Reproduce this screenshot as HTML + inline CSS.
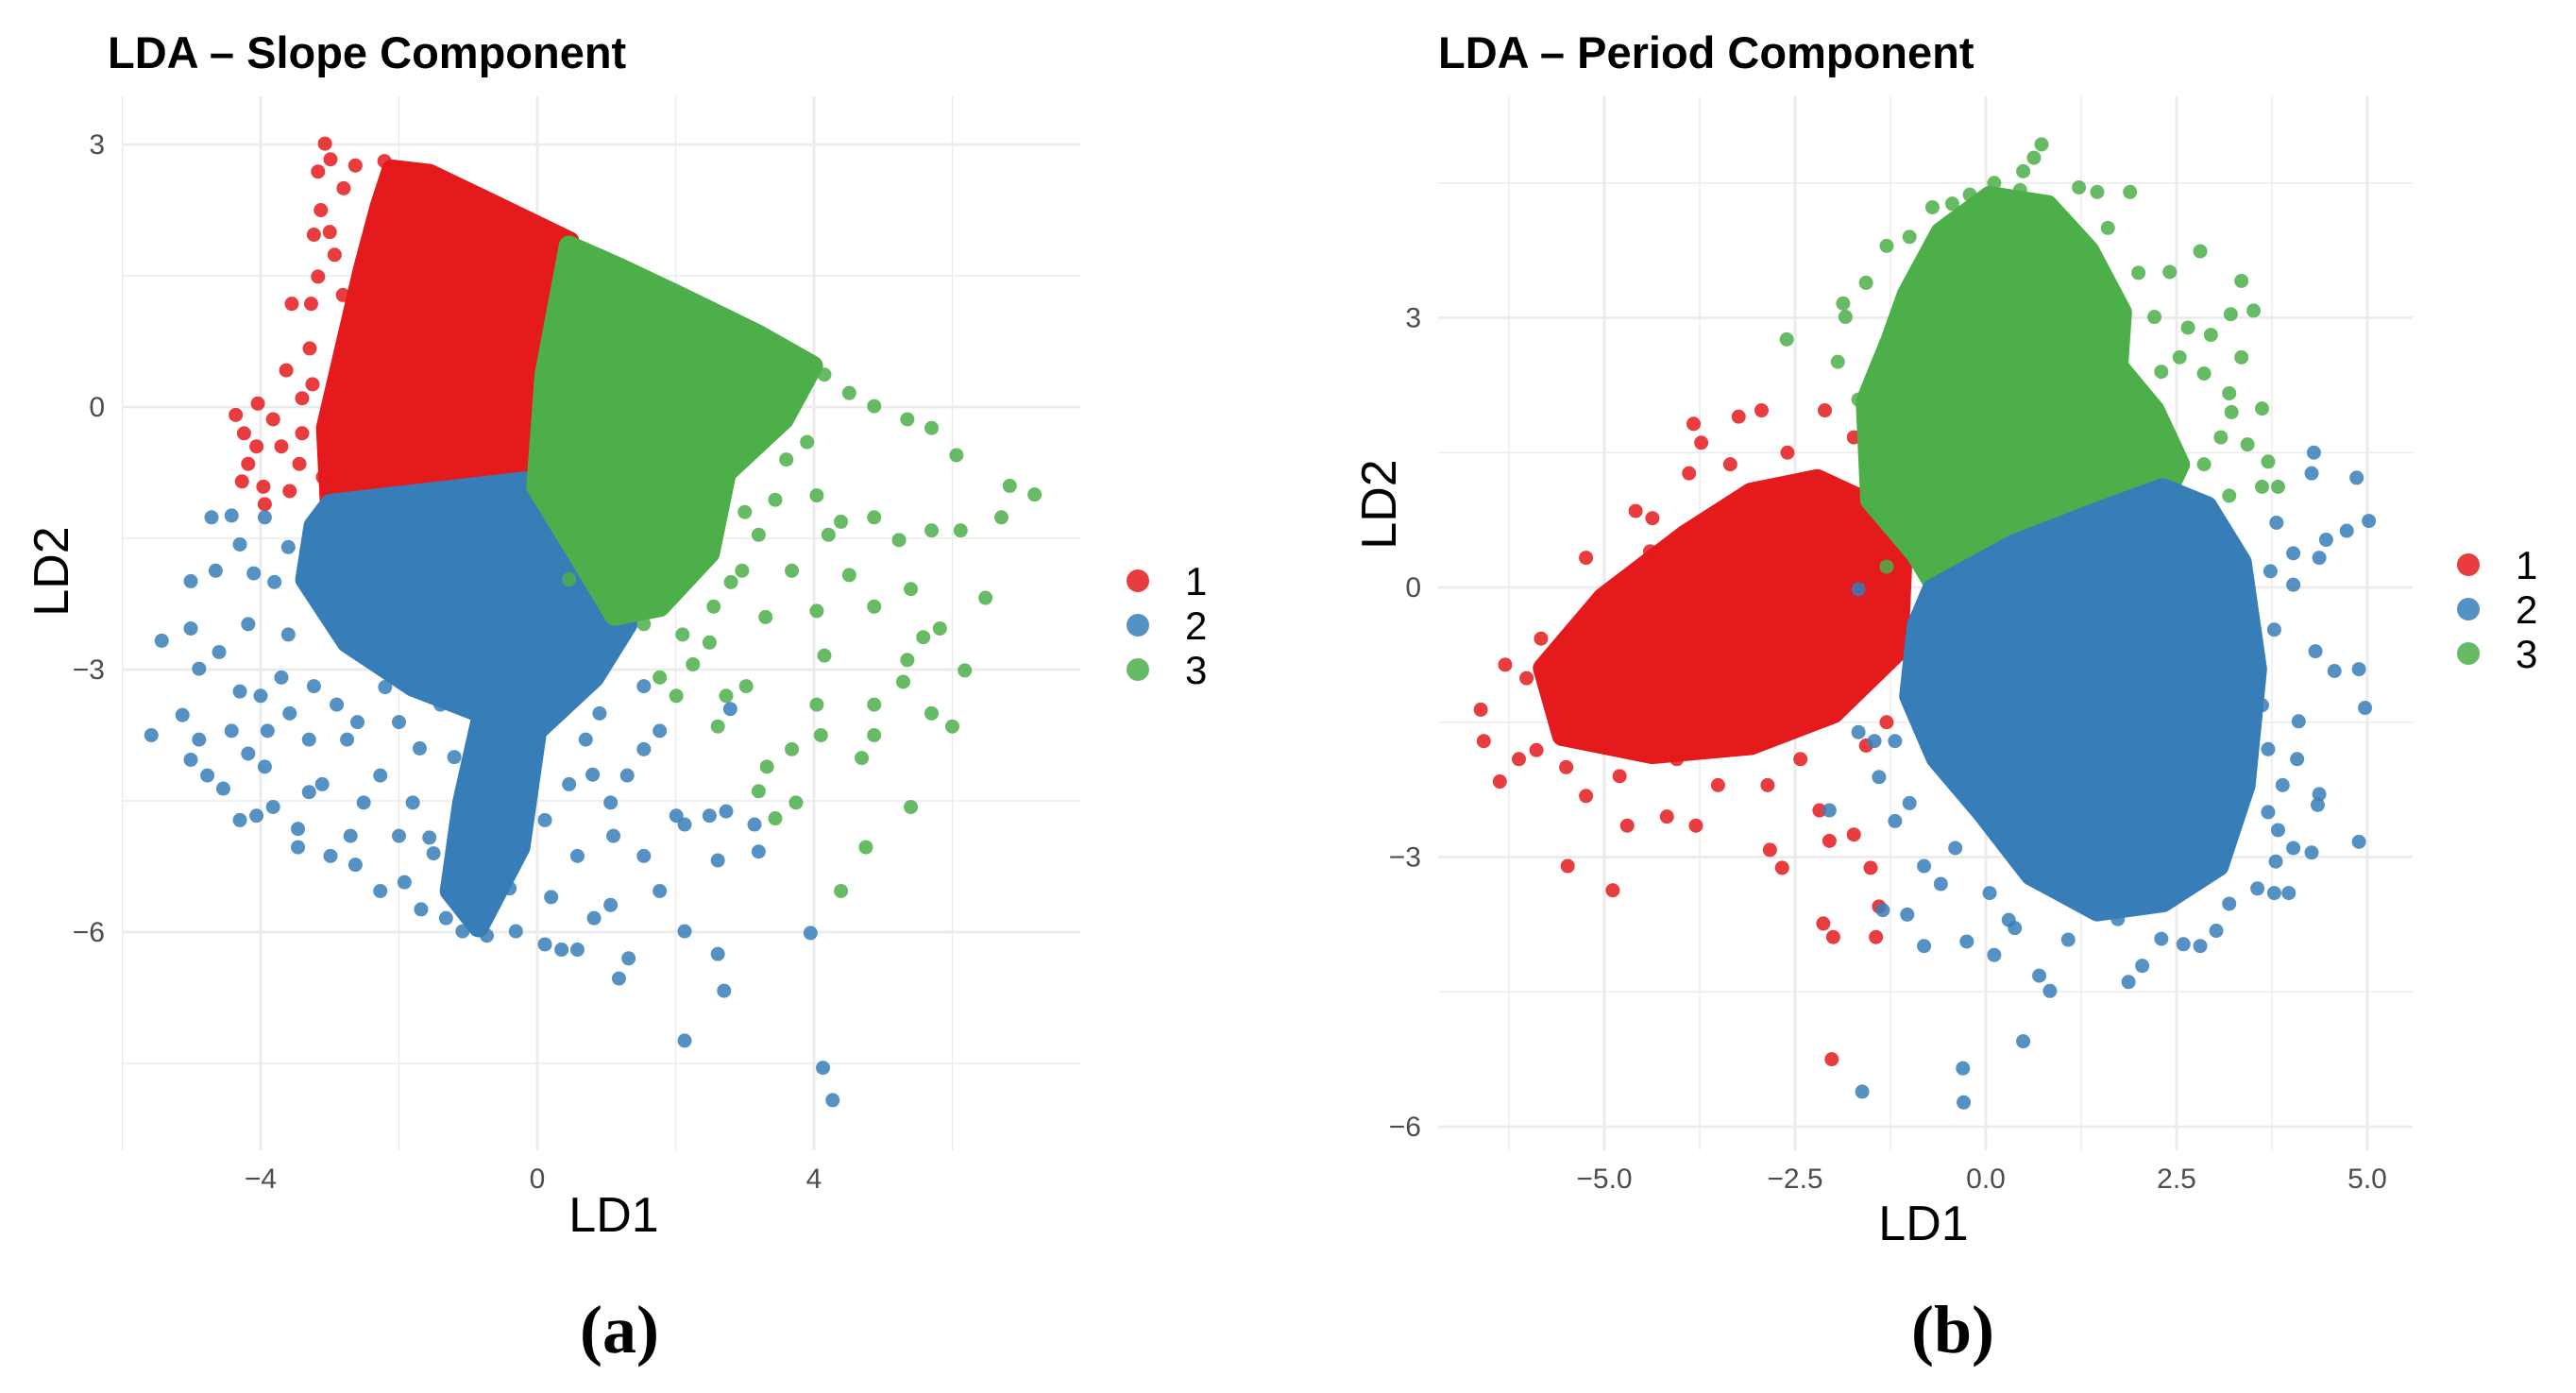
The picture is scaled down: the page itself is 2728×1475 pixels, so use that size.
<!DOCTYPE html>
<html><head><meta charset="utf-8"><style>
html,body{margin:0;padding:0;background:#fff;}
svg{display:block;}
text{font-family:"Liberation Sans","DejaVu Sans",sans-serif;}
</style></head><body>
<svg id="chart" width="2728" height="1475" viewBox="0 0 2728 1475" xmlns="http://www.w3.org/2000/svg">
<g>
<text x="114" y="72" font-size="47" font-weight="bold" fill="#000">LDA – Slope Component</text>
<g id="gA"></g>
<text x="650" y="1304" font-size="52" text-anchor="middle" fill="#000">LD1</text>
<text x="0" y="0" font-size="52" text-anchor="middle" fill="#000" transform="translate(72,605) rotate(-90)">LD2</text>
<text x="656" y="1432" font-size="72" font-weight="bold" text-anchor="middle" style="font-family:'Liberation Serif',serif">(a)</text>
</g>
<g>
<text x="1523" y="72" font-size="47" font-weight="bold" fill="#000">LDA – Period Component</text>
<g id="gB"></g>
<text x="2037" y="1313" font-size="52" text-anchor="middle" fill="#000">LD1</text>
<text x="0" y="0" font-size="52" text-anchor="middle" fill="#000" transform="translate(1478,534) rotate(-90)">LD2</text>
<text x="2068" y="1432" font-size="72" font-weight="bold" text-anchor="middle" style="font-family:'Liberation Serif',serif">(b)</text>
</g>
</svg>
<script>
// ---------- Panel A data (data units) ----------
const aRedCore = [[-2.10,2.71],[-1.56,2.66],[-0.61,2.30],[0.46,1.89],[0.58,1.28],[0.11,0.37],[-0.13,-0.85],[-1.08,-0.96],[-2.99,-1.16],[-3.05,-0.24],[-2.87,0.37],[-2.51,1.59],[-2.27,2.30]];
const aRedPts = [[-3.07,3.01],[-2.99,2.83],[-3.17,2.69],[-2.63,2.76],[-2.21,2.81],[-3.13,2.25],[-3.23,1.97],[-3.27,1.18],[-3.55,1.18],[-3.17,1.49],[-3.63,0.42],[-4.36,-0.09],[-4.24,-0.30],[-4.18,-0.65],[-4.27,-0.85],[-4.04,0.04],[-3.82,-0.14],[-3.96,-0.91],[-3.58,-0.96],[-3.44,-0.65],[-3.25,0.26],[-3.29,0.67],[-2.93,1.74],[-2.81,1.28],[-4.06,-0.45],[-3.70,-0.45],[-3.94,-1.11],[0.29,-0.65],[-3.4,-0.3],[-3.1,-0.8],[-3.4,0.1],[-3.0,2.0],[-2.8,2.5]];
const aBlueCore = [[-2.99,-1.11],[-0.13,-0.85],[0.58,-1.46],[1.30,-2.48],[0.82,-3.09],[-0.01,-3.70],[-0.25,-5.03],[-0.85,-5.94],[-1.26,-5.53],[-1.08,-4.52],[-0.79,-3.50],[-1.80,-3.19],[-2.75,-2.69],[-3.35,-1.97],[-3.23,-1.36]];
const aBluePts = [[-4.71,-1.26],[-4.42,-1.24],[-3.94,-1.26],[-5.01,-1.99],[-4.65,-1.87],[-4.30,-1.57],[-5.43,-2.67],[-5.01,-2.53],[-4.89,-2.99],[-5.58,-3.75],[-5.13,-3.52],[-4.89,-3.80],[-5.01,-4.03],[-4.77,-4.21],[-4.54,-4.36],[-4.30,-3.25],[-4.42,-3.70],[-4.18,-3.96],[-3.94,-4.11],[-4.06,-4.67],[-4.30,-4.72],[-3.82,-4.57],[-3.46,-4.82],[-3.46,-5.03],[-2.99,-5.13],[-2.63,-5.23],[-2.27,-5.53],[-1.92,-5.43],[-1.68,-5.74],[-1.32,-5.84],[-1.08,-5.99],[-0.73,-6.04],[-0.31,-5.99],[0.11,-6.14],[0.35,-6.20],[0.58,-6.20],[0.82,-5.84],[1.06,-5.69],[1.18,-6.53],[1.32,-6.30],[2.13,-5.99],[2.61,-6.25],[2.70,-6.67],[2.13,-7.24],[3.95,-6.01],[4.13,-7.55],[4.27,-7.92],[2.13,-4.77],[1.77,-5.53],[1.54,-5.13],[2.01,-4.67],[2.49,-4.67],[2.73,-4.62],[3.20,-5.08],[3.14,-4.77],[2.61,-5.18],[1.54,-3.91],[1.30,-4.21],[1.06,-4.52],[1.77,-3.70],[1.54,-3.19],[0.70,-3.80],[0.46,-4.31],[0.11,-4.72],[0.58,-5.13],[-3.58,-3.50],[-3.23,-3.19],[-2.75,-3.80],[-2.27,-4.21],[-1.80,-4.52],[-1.56,-4.92],[-2.51,-4.52],[-3.11,-4.31],[-3.70,-3.09],[-4.18,-2.48],[2.79,-3.45],[-2.0,-3.6],[-1.2,-4.0],[-2.4,-2.9],[-3.0,-2.4],[-0.4,-5.5],[-1.5,-5.1],[-3.8,-2.0],[-3.6,-2.6],[-3.9,-3.7],[-3.3,-3.8],[-2.9,-3.4],[-2.2,-3.2],[-1.7,-3.9],[-2.0,-4.9],[-2.7,-4.9],[-3.3,-4.4],[-4.6,-2.8],[-4.1,-1.9],[-3.6,-1.6],[0.3,-3.4],[0.9,-3.5],[0.2,-5.6],[-0.6,-4.9],[1.1,-4.9],[0.8,-4.2],[-1.4,-3.4],[-2.6,-3.6],[-4.0,-3.3]];
const aGreenCore = [[0.46,1.84],[1.18,1.59],[2.01,1.28],[3.20,0.82],[3.98,0.47],[3.56,-0.14],[2.73,-0.75],[2.49,-1.67],[1.77,-2.28],[1.12,-2.38],[0.58,-1.67],[-0.01,-0.91],[0.11,0.37]];
const aGreenPts = [[4.15,0.37],[4.51,0.16],[4.87,0.01],[5.35,-0.14],[5.70,-0.24],[6.06,-0.55],[6.83,-0.90],[7.19,-1.00],[6.71,-1.26],[5.70,-1.41],[6.12,-1.41],[5.23,-1.52],[4.87,-1.26],[4.39,-1.31],[4.04,-1.01],[4.51,-1.92],[5.40,-2.08],[6.48,-2.18],[4.87,-2.28],[5.82,-2.53],[5.58,-2.63],[4.04,-2.33],[3.68,-1.87],[4.21,-1.46],[5.35,-2.89],[6.18,-3.01],[5.29,-3.14],[5.70,-3.50],[6.00,-3.65],[4.87,-3.40],[4.87,-3.75],[4.04,-3.40],[4.10,-3.75],[3.68,-3.91],[3.32,-4.11],[3.20,-4.39],[3.44,-4.70],[3.74,-4.52],[4.75,-5.03],[5.40,-4.57],[4.39,-5.53],[4.69,-4.01],[4.15,-2.84],[3.02,-3.19],[2.73,-3.30],[2.61,-3.65],[2.01,-3.30],[1.77,-3.09],[2.25,-2.94],[2.49,-2.69],[2.55,-2.28],[0.46,-1.97],[1.54,-2.48],[3.20,-1.46],[3.44,-1.06],[2.96,-1.87],[3.0,-1.2],[2.8,-2.0],[3.6,-0.6],[3.9,-0.4],[3.3,-2.4],[2.1,-2.6]];
const aXTicks = [-4,0,4];
const aXMinor = [-6,-2,2,6];
const aYTicks = [3,0,-3,-6];
const aYMinor = [1.5,-1.5,-4.5,-7.5];
const aXLabels = ["−4","0","4"];
const aYLabels = ["3","0","−3","−6"];

// ---------- Panel B data (data units) ----------
const bRedCore = [[-5.80,-0.90],[-5.02,-0.12],[-3.94,0.58],[-3.08,1.05],[-2.21,1.20],[-1.57,0.95],[-1.10,0.28],[-1.15,-0.70],[-2.00,-1.40],[-3.08,-1.75],[-4.37,-1.85],[-5.55,-1.65]];
const bRedPts = [[-6.62,-1.36],[-6.58,-1.71],[-6.37,-2.16],[-6.30,-0.86],[-6.02,-1.01],[-5.83,-0.57],[-6.12,-1.91],[-5.89,-1.81],[-5.48,-3.10],[-4.89,-3.37],[-5.24,0.33],[-5.24,-2.32],[-4.70,-2.65],[-4.18,-2.55],[-3.80,-2.65],[-4.59,0.85],[-4.37,0.77],[-3.89,1.27],[-3.73,1.61],[-3.83,1.82],[-3.24,1.90],[-2.94,1.97],[-3.35,1.37],[-2.83,-2.92],[-2.67,-3.12],[-2.18,-2.48],[-2.05,-2.82],[-1.73,-2.75],[-2.00,-3.89],[-2.13,-3.74],[-1.51,-3.12],[-1.40,-3.55],[-1.44,-3.89],[-2.02,-5.25],[-1.57,-1.76],[-0.92,-0.42],[-2.11,1.97],[-1.73,1.67],[-1.30,1.07],[-2.86,-2.20],[-2.43,-1.91],[-3.51,-2.20],[-4.05,-1.91],[-5.5,-2.0],[-4.8,-2.1],[-4.4,0.4],[-2.6,1.5],[-1.0,-1.1],[-1.3,-1.5]];
const bGreenCore = [[-1.03,3.26],[-0.59,3.95],[0.05,4.35],[0.81,4.25],[1.35,3.75],[1.78,3.06],[1.73,2.46],[2.21,1.97],[2.54,1.37],[2.32,0.97],[1.57,0.87],[0.59,0.48],[0.16,-0.12],[-0.49,-0.22],[-0.92,0.38],[-1.51,0.97],[-1.57,2.07],[-1.24,2.76]];
const bGreenPts = [[0.73,4.93],[0.63,4.78],[0.49,4.63],[0.45,4.42],[0.11,4.50],[-0.21,4.37],[-0.44,4.27],[-0.70,4.23],[1.22,4.45],[1.46,4.40],[1.89,4.40],[2.81,3.74],[2.41,3.51],[3.35,3.41],[3.51,3.08],[3.21,3.04],[3.35,2.56],[2.95,2.81],[2.65,2.89],[2.86,2.38],[3.19,2.16],[3.62,1.99],[3.22,1.95],[3.43,1.59],[3.70,1.40],[3.83,1.12],[3.62,1.12],[3.19,1.02],[2.86,1.37],[3.08,1.67],[2.21,3.01],[2.54,2.56],[-1.30,3.80],[-1.57,3.39],[-1.87,3.16],[-1.84,3.01],[-1.94,2.51],[-1.67,2.09],[-1.46,1.67],[-1.57,1.27],[-2.61,2.76],[-1.03,0.97],[-0.81,0.58],[-1.30,0.23],[1.00,-0.10],[1.22,0.13],[1.60,0.68],[2.0,3.5],[2.3,2.4],[-1.0,3.9],[1.6,4.0]];
const bBlueCore = [[-0.70,-0.02],[0.38,0.48],[1.57,0.87],[2.32,1.10],[2.90,0.90],[3.35,0.28],[3.55,-0.91],[3.40,-2.20],[3.05,-3.10],[2.32,-3.50],[1.46,-3.60],[0.59,-3.20],[-0.05,-2.50],[-0.65,-1.90],[-1.00,-1.21],[-0.90,-0.42]];
const bBluePts = [[4.30,1.50],[4.27,1.27],[4.86,1.22],[5.02,0.74],[4.73,0.63],[4.46,0.53],[4.03,0.38],[4.03,0.03],[4.37,0.33],[3.81,0.72],[3.78,-0.47],[4.32,-0.71],[4.57,-0.93],[4.89,-0.91],[4.97,-1.34],[4.10,-1.49],[4.08,-1.91],[3.89,-2.20],[4.37,-2.30],[4.35,-2.42],[3.83,-2.70],[4.03,-2.90],[4.27,-2.95],[4.89,-2.83],[3.97,-3.40],[3.80,-3.05],[3.56,-3.35],[3.19,-3.52],[3.02,-3.82],[2.59,-3.97],[2.81,-3.99],[2.30,-3.91],[2.05,-4.21],[1.87,-4.39],[1.73,-3.69],[1.08,-3.92],[0.84,-4.49],[0.70,-4.32],[0.49,-5.05],[0.11,-4.09],[-0.25,-3.94],[-0.30,-5.35],[-0.29,-5.73],[-1.62,-5.61],[-0.81,-3.99],[-1.03,-3.64],[-1.35,-3.59],[-0.81,-3.10],[-1.19,-2.60],[-1.40,-2.11],[-1.67,-1.61],[-2.05,-2.48],[-1.19,-1.71],[-1.46,-1.71],[-1.67,-0.02],[-0.59,-3.30],[0.05,-3.40],[0.38,-3.79],[3.62,-1.31],[3.73,0.18],[3.78,-3.40],[3.7,-1.8],[3.7,-2.5],[-0.4,-2.9],[0.3,-3.7],[-1.0,-2.4]];
const bXTicks = [-5,-2.5,0,2.5,5];
const bXMinor = [-6.25,-3.75,-1.25,1.25,3.75];
const bYTicks = [3,0,-3,-6];
const bYMinor = [4.5,1.5,-1.5,-4.5];
const bXLabels = ["−5.0","−2.5","0.0","2.5","5.0"];
const bYLabels = ["3","0","−3","−6"];

const legendLabels = ["1","2","3"];
const COLORS = {red:"#E41A1C", blue:"#377EB8", green:"#4DAF4A"};
const NS = "http://www.w3.org/2000/svg";

function mk(tag, attrs, parent){
  const e = document.createElementNS(NS, tag);
  for (const k in attrs) e.setAttribute(k, attrs[k]);
  parent.appendChild(e);
  return e;
}
function linScale(d0,d1,r0,r1){ return v => r0 + (v-d0)*(r1-r0)/(d1-d0); }

function drawPanel(g, cfg){
  const sx = cfg.sx, sy = cfg.sy;
  const grid = mk('g', {}, g);
  
  
  cfg.xMinor.forEach(v => { const l = mk('line',{x1:sx(v),x2:sx(v),y1:cfg.top,y2:cfg.bottom,stroke:"#ebebeb","stroke-width":1.4},grid);   });
  cfg.yMinor.forEach(v => { const l = mk('line',{x1:cfg.left,x2:cfg.right,y1:sy(v),y2:sy(v),stroke:"#ebebeb","stroke-width":1.4},grid);   });
  cfg.xTicks.forEach((v,i) => {
    const l = mk('line',{x1:sx(v),x2:sx(v),y1:cfg.top,y2:cfg.bottom,stroke:"#ebebeb","stroke-width":2.8},grid);
     
    const t = mk('text',{x:sx(v),y:cfg.bottom+40,"font-size":30,fill:"#4d4d4d","text-anchor":"middle"},g);
    t.textContent = cfg.xLabels[i];
     
  });
  cfg.yTicks.forEach((v,i) => {
    const l = mk('line',{x1:cfg.left,x2:cfg.right,y1:sy(v),y2:sy(v),stroke:"#ebebeb","stroke-width":2.8},grid);
     
    const t = mk('text',{x:cfg.left-18,y:sy(v)+10,"font-size":30,fill:"#4d4d4d","text-anchor":"end"},g);
    t.textContent = cfg.yLabels[i];
     
  });
  cfg.series.forEach(s => {
    const sg = mk('g', {fill:COLORS[s.color]}, g);
    
    
    const pts = s.core.map(p => sx(p[0]) + ',' + sy(p[1])).join(' ');
    const poly = mk('polygon',{points:pts,fill:COLORS[s.color],stroke:COLORS[s.color],"stroke-width":22,"stroke-linejoin":"round"},sg);
    
    
    s.pts.forEach(p => {
      const c = mk('circle',{cx:sx(p[0]),cy:sy(p[1]),r:7.5,"fill-opacity":0.85},sg);
      
      
    });
  });
  const lg = mk('g', {}, g);
  
  
  ["red","blue","green"].forEach((c,i) => {
    const y = cfg.legY + i*47;
    const d = mk('circle',{cx:cfg.legX,cy:y,r:12,fill:COLORS[c],"fill-opacity":0.85},lg);
     
    const t = mk('text',{x:cfg.legX+50,y:y+15,"font-size":42,fill:"#000"},lg);
    t.textContent = legendLabels[i];
     
  });
}

drawPanel(document.getElementById('gA'), {
  sx: linScale(0,4,569,862), sy: linScale(0,-3,431,709),
  left:129, right:1144, top:102, bottom:1218,
  xTicks:aXTicks, xMinor:aXMinor, yTicks:aYTicks, yMinor:aYMinor, xLabels:aXLabels, yLabels:aYLabels,
  series:[{label:"1",color:"red",core:aRedCore,pts:aRedPts},{label:"2",color:"blue",core:aBlueCore,pts:aBluePts},{label:"3",color:"green",core:aGreenCore,pts:aGreenPts}],
  legX:1205, legY:615
});
drawPanel(document.getElementById('gB'), {
  sx: linScale(0,5,2103,2507), sy: linScale(0,-6,622,1193),
  left:1523, right:2555, top:102, bottom:1218,
  xTicks:bXTicks, xMinor:bXMinor, yTicks:bYTicks, yMinor:bYMinor, xLabels:bXLabels, yLabels:bYLabels,
  series:[{label:"1",color:"red",core:bRedCore,pts:bRedPts},{label:"3",color:"green",core:bGreenCore,pts:bGreenPts},{label:"2",color:"blue",core:bBlueCore,pts:bBluePts}],
  legX:2614, legY:598
});
</script>
</body></html>
